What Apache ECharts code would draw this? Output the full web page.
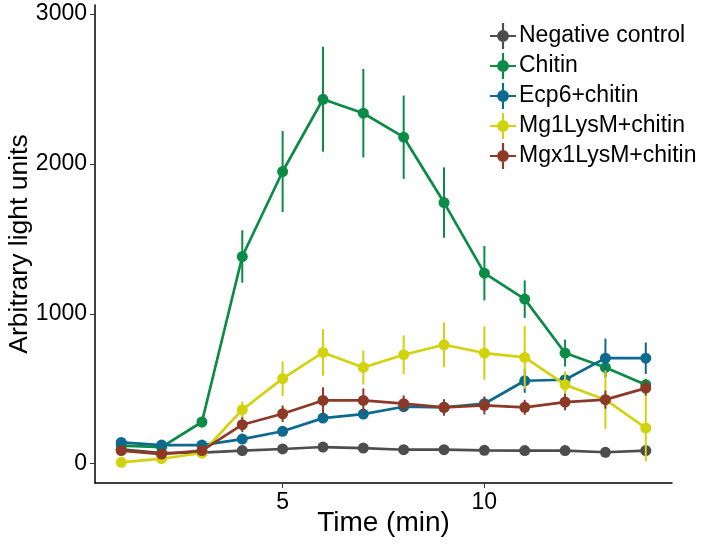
<!DOCTYPE html>
<html>
<head>
<meta charset="utf-8">
<script src="https://cdn.jsdelivr.net/npm/echarts@6/dist/echarts.min.js"></script>
<style>html,body{margin:0;padding:0;background:#fff}#c{width:709px;height:546px}</style>
</head>
<body>
<div id="c"></div>
<script>
const time = [1,2,3,4,5,6,7,8,9,10,11,12,13,14];
const seriesNames = ['Negative control','Chitin','Ecp6+chitin','Mg1LysM+chitin','Mgx1LysM+chitin'];
const colors = ['#4d4d4d','#0a8c47','#0c6a8e','#d2d20e','#8c3a27'];
const negControl    = [95, 71, 73, 87, 98, 111, 104, 93, 93, 89, 87, 87, 76, 87];
const negControlErr = [10, 8, 8, 10, 10, 12, 10, 10, 10, 10, 10, 10, 10, 10];
const chitin        = [120, 110, 278, 1382, 1949, 2431, 2338, 2178, 1742, 1271, 1098, 738, 642, 527];
const chitinErr     = [20, 20, 35, 175, 270, 350, 295, 278, 235, 182, 125, 90, 60, 40];
const ecp6          = [142, 124, 124, 164, 216, 304, 331, 380, 376, 400, 553, 560, 704, 704];
const ecp6Err       = [15, 12, 12, 15, 20, 25, 25, 30, 30, 35, 80, 40, 130, 105];
const mg1LysM       = [9, 33, 71, 360, 567, 742, 642, 727, 793, 738, 709, 527, 427, 238];
const mg1LysMErr    = [10, 10, 15, 55, 115, 155, 114, 129, 150, 178, 210, 90, 195, 223];
const mgx1LysM      = [87, 64, 87, 260, 333, 422, 422, 400, 375, 389, 376, 411, 427, 504];
const mgx1LysMErr   = [15, 15, 20, 50, 55, 87, 80, 55, 55, 60, 50, 55, 60, 50];
const xTicks = [5, 10];
const yTicks = [0, 1000, 2000, 3000];

const values = [negControl, chitin, ecp6, mg1LysM, mgx1LysM];
const errs = [negControlErr, chitinErr, ecp6Err, mg1LysMErr, mgx1LysMErr];
const FONT = '"Liberation Sans", Arial, sans-serif';
const icon = 'path://M0,11 L24,11 L24,13 L0,13 Z M11,0 L13,0 L13,24 L11,24 Z M6.5,12 A5.5,5.5 0 1,1 17.5,12 A5.5,5.5 0 1,1 6.5,12 Z';

const series = [];
values.forEach((vals, i) => {
  const e = errs[i];
  series.push({
    type: 'custom',
    name: seriesNames[i],
    data: time.map((t, k) => [t, vals[k] - e[k], vals[k] + e[k]]),
    encode: {x: 0, y: [1, 2]},
    z: 2 + i * 3,
    silent: true,
    renderItem: function (params, api) {
      const p1 = api.coord([api.value(0), api.value(1)]);
      const p2 = api.coord([api.value(0), api.value(2)]);
      return {type: 'line', shape: {x1: p1[0], y1: p1[1], x2: p2[0], y2: p2[1]},
              style: {stroke: colors[i], lineWidth: 2}};
    }
  });
  series.push({
    type: 'line',
    name: seriesNames[i],
    data: time.map((t, k) => [t, vals[k]]),
    symbol: 'circle',
    symbolSize: 11,
    showSymbol: true,
    z: 3 + i * 3,
    lineStyle: {color: colors[i], width: 2.7},
    itemStyle: {color: colors[i]},
    emphasis: {disabled: true},
    animation: false
  });
});

const chart = echarts.init(document.getElementById('c'));
chart.setOption({
  animation: false,
  color: colors,
  textStyle: {fontFamily: FONT},
  grid: {left: 95, right: 37, top: 5, bottom: 63, containLabel: false, outerBoundsMode: 'none'},
  legend: {
    data: seriesNames.map((n, i) => ({name: n, icon: icon, itemStyle: {color: colors[i]}})),
    orient: 'vertical',
    left: 485,
    top: 18,
    itemWidth: 26,
    itemHeight: 26,
    itemGap: 4,
    textStyle: {fontSize: 23, color: '#000', fontFamily: FONT, padding: [0, 0, 0, -2]},
    selectedMode: false
  },
  xAxis: {
    type: 'value',
    min: 0.35,
    max: 14.65,
    name: 'Time (min)',
    nameLocation: 'middle',
    nameGap: 26,
    nameMoveOverlap: false,
    nameTextStyle: {fontSize: 28, color: '#000', fontFamily: FONT, verticalAlign: 'top'},
    splitLine: {show: false},
    axisLine: {show: true, onZero: false, lineStyle: {color: '#000', width: 1.5}},
    axisTick: {show: true, length: 5, lineStyle: {color: '#333'}, customValues: xTicks},
    axisLabel: {fontSize: 23, color: '#000', margin: 8, customValues: xTicks, fontFamily: FONT}
  },
  yAxis: {
    type: 'value',
    min: -129,
    max: 3060,
    name: 'Arbitrary light units',
    nameLocation: 'middle',
    nameGap: 62,
    nameMoveOverlap: false,
    nameTextStyle: {fontSize: 26.5, color: '#000', fontFamily: FONT},
    splitLine: {show: false},
    axisLine: {show: true, onZero: false, lineStyle: {color: '#000', width: 1.5}},
    axisTick: {show: true, length: 5, lineStyle: {color: '#333'}, customValues: yTicks},
    axisLabel: {fontSize: 23, color: '#000', margin: 8, customValues: yTicks, fontFamily: FONT,
                formatter: v => String(v)}
  },
  series: series
});
</script>
</body>
</html>
